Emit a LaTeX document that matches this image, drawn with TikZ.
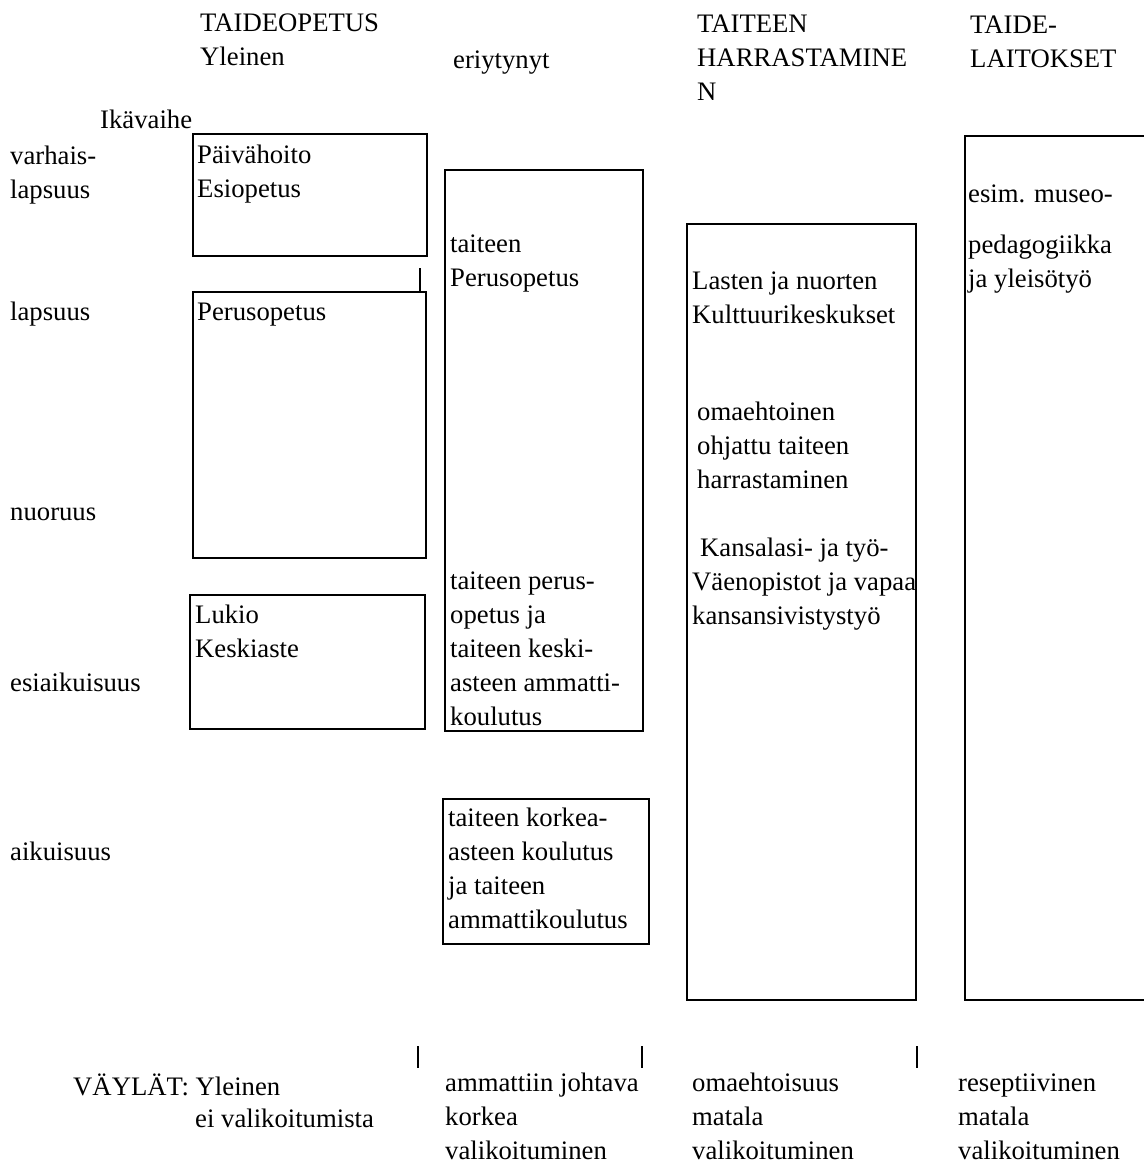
\documentclass[tikz,border=0pt]{standalone}
\usepackage{fontspec}
\setmainfont{Liberation Serif}
\newfontfamily\timesfam{Liberation Serif}
\usetikzlibrary{positioning}

\begin{document}
\begin{tikzpicture}[
  x=1pt,y=-1pt,
  font=\timesfam\fontsize{26.7}{34}\selectfont,
  frame/.style={line width=2pt,draw=black},
  tick/.style={line width=2pt,draw=black},
  txt/.style={anchor=base west,inner sep=0pt,align=left}
]
\useasboundingbox (0,0) rectangle (1144,1167);

% ================= column heads (base = last line) =================
\node[txt] (hdyl)  at (200,65)  {TAIDEOPETUS\\Yleinen};
\node[txt] (hderi) at (453,68)  {eriytynyt};
\node[txt] (hdhar) at (697,100) {TAITEEN\\HARRASTAMINE\\N};
\node[txt] (hdlai) at (970,67)  {TAIDE-\\LAITOKSET};

% ================= age phases =================
\node[txt] (ika)    at (100,128) {Ikävaihe};
\node[txt] (varh)   at (10,198)  {varhais-\\lapsuus};
\node[txt] (laps)   at (10,320)  {lapsuus};
\node[txt] (nuor)   at (10,520)  {nuoruus};
\node[txt] (esiaik) at (10,691)  {esiaikuisuus};
\node[txt] (aik)    at (10,860)  {aikuisuus};

% ================= yleinen =================
\draw[frame] (193,134) rectangle (427,256);
\node[txt] (paiva) at (197,197) {Päivähoito\\Esiopetus};
\draw[tick] (420,268) -- (420,292);
\draw[frame] (193,292) rectangle (426,558);
\node[txt] (perus) at (197,320) {Perusopetus};
\draw[frame] (190,595) rectangle (425,729);
\node[txt] (lukio) at (195,657) {Lukio\\Keskiaste};

% ================= eriytynyt =================
\draw[frame] (445,170) rectangle (643,731);
\node[txt] (tperus) at (450,286) {taiteen\\Perusopetus};
\node[txt] (tkeski) at (450,725)
  {taiteen perus-\\opetus ja\\taiteen keski-\\asteen ammatti-\\koulutus};
\draw[frame] (443,799) rectangle (649,944);
\node[txt] (tkork) at (448,928)
  {taiteen korkea-\\asteen koulutus\\ja taiteen\\ammattikoulutus};

% ================= harrastaminen =================
\draw[frame] (687,224) rectangle (916,1000);
\node[txt] (lasten) at (692,323) {Lasten ja nuorten\\Kulttuurikeskukset};
\node[txt] (omaeh)  at (697,488) {omaehtoinen\\ohjattu taiteen\\harrastaminen};
\node[txt] (kansal) at (700,556) {Kansalasi- ja työ-};
\node[txt] (vaen)   at (692,624) {Väenopistot ja vapaa\\kansansivistystyö};

% ================= taidelaitokset =================
\draw[frame] (965,136) -- (1144,136);
\draw[frame] (965,135) -- (965,1000) -- (1144,1000);
\node[txt] (museo) at (968,202) {esim. museo-};
\node[txt] (pedag) at (968,287) {pedagogiikka\\ja yleisötyö};

% ================= väylät =================
\draw[tick] (418,1046) -- (418,1068);
\draw[tick] (642,1046) -- (642,1068);
\draw[tick] (917,1046) -- (917,1068);
\node[txt] (vayl)  at (73,1095)  {VÄYLÄT: Yleinen};
\node[txt] (eival) at (195,1127) {ei valikoitumista};
\node[txt] (vamm)  at (445,1159) {ammattiin johtava\\korkea\\valikoituminen};
\node[txt] (vomae) at (692,1159) {omaehtoisuus\\matala\\valikoituminen};
\node[txt] (vrese) at (958,1159) {reseptiivinen\\matala\\valikoituminen};

\end{tikzpicture}
\end{document}
